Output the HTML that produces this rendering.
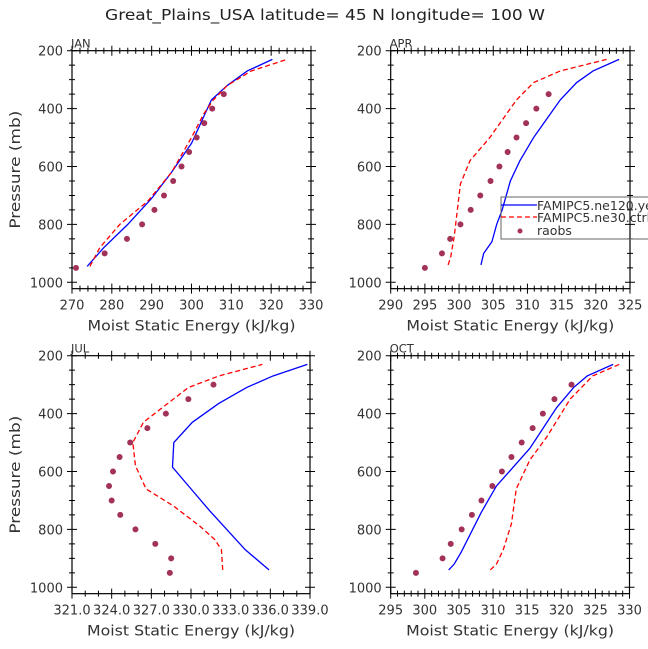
<!DOCTYPE html>
<html><head><meta charset="utf-8"><style>
body{margin:0;background:#fff}
svg{display:block;font-family:"DejaVu Sans","Liberation Sans",sans-serif}
</style></head><body>
<svg id="c" width="648" height="649" viewBox="0 0 648 649">
<text x="325" y="20" text-anchor="middle" font-size="15" fill="#222" textLength="440" lengthAdjust="spacingAndGlyphs">Great_Plains_USA  latitude= 45 N longitude= 100 W</text>
</svg>
<script>
const NS='http://www.w3.org/2000/svg';
const svg=document.getElementById('c');
// JAN
const janBlueX=[273.8,278,284,290,295,300,303,305,309,314,320.3];
const janBlueP=[945,880,800,710,620,520,430,370,320,270,230];
const janRedX=[274.5,277,282,289,295,300,303,305.5,309,315,324];
const janRedP=[945,880,800,720,620,500,420,370,320,270,230];
const janObsX=[271,278.2,283.8,287.6,290.7,293.1,295.4,297.5,299.4,301.3,303.2,305.2,308.1];
const janObsP=[950,900,850,800,750,700,650,600,550,500,450,400,350];
// APR
const aprBlueX=[303.2,303.6,304.8,305.5,306.3,307.5,308.9,310.9,314.8,317.2,319.6,323.4];
const aprBlueP=[940,900,860,800,750,650,580,500,370,310,270,230];
const aprRedX=[298.4,298.8,299.3,299.7,300.2,301.6,304.5,308.4,310.9,314.8,321.6];
const aprRedP=[940,910,840,760,660,580,500,370,310,270,230];
const aprObsX=[295,297.5,298.7,300.2,301.7,303.1,304.6,305.9,307.1,308.4,309.8,311.3,313.1];
const aprObsP=[950,900,850,800,750,700,650,600,550,500,450,400,350];
// JUL
const julBlueX=[335.9,334.1,331.4,330.0,328.6,328.7,330.1,332.1,334.2,336.2,338.8];
const julBlueP=[940,870,735,660,585,500,430,365,310,270,230];
const julRedX=[332.4,332.3,331.8,330.7,328.7,326.6,325.8,325.6,326.4,328.1,329.8,332.1,335.4];
const julRedP=[940,870,835,790,720,660,580,500,430,370,310,270,230];
const julObsX=[328.4,328.5,327.3,325.8,324.65,324.0,323.8,324.1,324.6,325.4,326.7,328.1,329.8,331.7];
const julObsP=[950,900,850,800,750,700,650,600,550,500,450,400,350,300];
// OCT
const octBlueX=[303.5,304.3,305.3,308.3,310.5,315.4,319.3,321.8,323.8,327.6];
const octBlueP=[940,920,880,740,650,520,380,310,270,230];
const octRedX=[309.6,310.5,311.5,312.7,313.4,315.4,317.9,321.3,324.6,328.5];
const octRedP=[940,920,870,780,660,560,480,350,270,230];
const octObsX=[298.7,302.6,303.8,305.4,306.9,308.3,309.9,311.3,312.7,314.2,315.8,317.3,319.0,321.5];
const octObsP=[950,900,850,800,750,700,650,600,550,500,450,400,350,300];
const pTicks=[200,400,600,800,1000];

function el(t,a,p){const e=document.createElementNS(NS,t);for(const k in a)e.setAttribute(k,a[k]);(p||svg).appendChild(e);return e;}

const panels=[
 {name:'jan',label:'JAN',L:72,R:311,T:50.7,x0:270,x1:330,maj:10,min:2,dec:0,bx:janBlueX,bp:janBlueP,rx:janRedX,rp:janRedP,ox:janObsX,op:janObsP,ylab:true},
 {name:'apr',label:'APR',L:390.7,R:630,T:50.7,x0:290,x1:325,maj:5,min:1,dec:0,bx:aprBlueX,bp:aprBlueP,rx:aprRedX,rp:aprRedP,ox:aprObsX,op:aprObsP,ylab:false},
 {name:'jul',label:'JUL',L:72,R:310,T:355.7,x0:321,x1:339,maj:3,min:1,dec:1,bx:julBlueX,bp:julBlueP,rx:julRedX,rp:julRedP,ox:julObsX,op:julObsP,ylab:true},
 {name:'oct',label:'OCT',L:390.7,R:629.5,T:355.7,x0:295,x1:330,maj:5,min:1,dec:0,bx:octBlueX,bp:octBlueP,rx:octRedX,rp:octRedP,ox:octObsX,op:octObsP,ylab:false}
];
panels.forEach(pn=>{
 const g=el('g',{});
 
 
 const ppm=0.2895;
 const B=pn.T+822*ppm;
 const sx=v=>pn.L+(v-pn.x0)/(pn.x1-pn.x0)*(pn.R-pn.L);
 const sy=p=>pn.T+(p-200)*ppm;
 const fr=el('rect',{x:pn.L,y:pn.T,width:pn.R-pn.L,height:B-pn.T,fill:'none',stroke:'#000','stroke-width':1.2},g);
 
 
 let d='';
 for(let p=200;p<=1000;p+=50){const y=sy(p);const m=(p%200===0)?5:3;
  d+=`M${pn.L-m},${y}H${pn.L+m}M${pn.R-m},${y}H${pn.R+m}`;}
 const n=Math.round((pn.x1-pn.x0)/pn.min);
 for(let i=0;i<=n;i++){const v=pn.x0+i*pn.min;const x=sx(v);const isM=Math.abs(((v-pn.x0)/pn.maj)-Math.round((v-pn.x0)/pn.maj))<1e-6;const m=isM?5:3;
  d+=`M${x},${pn.T-m}V${pn.T+m}M${x},${B-m}V${B+m}`;}
 const tk=el('path',{d:d,stroke:'#000','stroke-width':1,fill:'none'},g);
 
 
 pTicks.forEach(p=>{const t=el('text',{x:pn.L-9,y:sy(p)+5,'text-anchor':'end','font-size':13,fill:'#333'},g);t.textContent=p;
  
  });
 for(let v=pn.x0;v<=pn.x1+1e-6;v+=pn.maj){const t=el('text',{x:sx(v),y:B+21,'text-anchor':'middle','font-size':13,fill:'#333'},g);t.textContent=v.toFixed(pn.dec);
  
  }
 const xl=el('text',{x:(pn.L+pn.R)/2,y:B+42,'text-anchor':'middle','font-size':14.5,fill:'#333',textLength:208,lengthAdjust:'spacingAndGlyphs'},g);xl.textContent='Moist Static Energy (kJ/kg)';
 
 
 if(pn.ylab){const yl=el('text',{x:0,y:0,'text-anchor':'middle','font-size':14.5,fill:'#333',textLength:118,lengthAdjust:'spacingAndGlyphs',transform:`translate(20,${(pn.T+B)/2}) rotate(-90)`},g);yl.textContent='Pressure (mb)';
  
  }
 const pl=el('text',{x:pn.L-1,y:pn.T-3,'font-size':11.5,fill:'#333'},g);pl.textContent=pn.label;
 
 
 const pts=(xs,ps)=>xs.map((v,i)=>sx(v)+','+sy(ps[i])).join(' ');
 const b=el('polyline',{points:pts(pn.bx,pn.bp),fill:'none',stroke:'#0000ff','stroke-width':1.3},g);
 
 
 const r=el('polyline',{points:pts(pn.rx,pn.rp),fill:'none',stroke:'#ff0000','stroke-width':1.3,'stroke-dasharray':'5,3'},g);
 
 
 pn.ox.forEach((v,i)=>{const c=el('circle',{cx:sx(v),cy:sy(pn.op[i]),r:3,fill:'#a3325a'},g);
  
  });
});
// legend
const lg=el('g',{});


el('path',{d:'M648,197H501V239H648',fill:'none',stroke:'#666','stroke-width':1},lg);
const le1=el('line',{x1:501,y1:205,x2:537,y2:205,stroke:'#0000ff','stroke-width':1.3},lg);


const le2=el('line',{x1:501,y1:217,x2:537,y2:217,stroke:'#ff0000','stroke-width':1.3,'stroke-dasharray':'5,3'},lg);


const le3=el('circle',{cx:520,cy:231,r:2.5,fill:'#a3325a'},lg);


[['FAMIPC5.ne120.yellowstone',210],['FAMIPC5.ne30.ctrl',222],['raobs',235]].forEach(([s,y])=>{const t=el('text',{x:537,y:y,'font-size':12.5,fill:'#333'},lg);t.textContent=s;
 
 });
</script>
</body></html>
